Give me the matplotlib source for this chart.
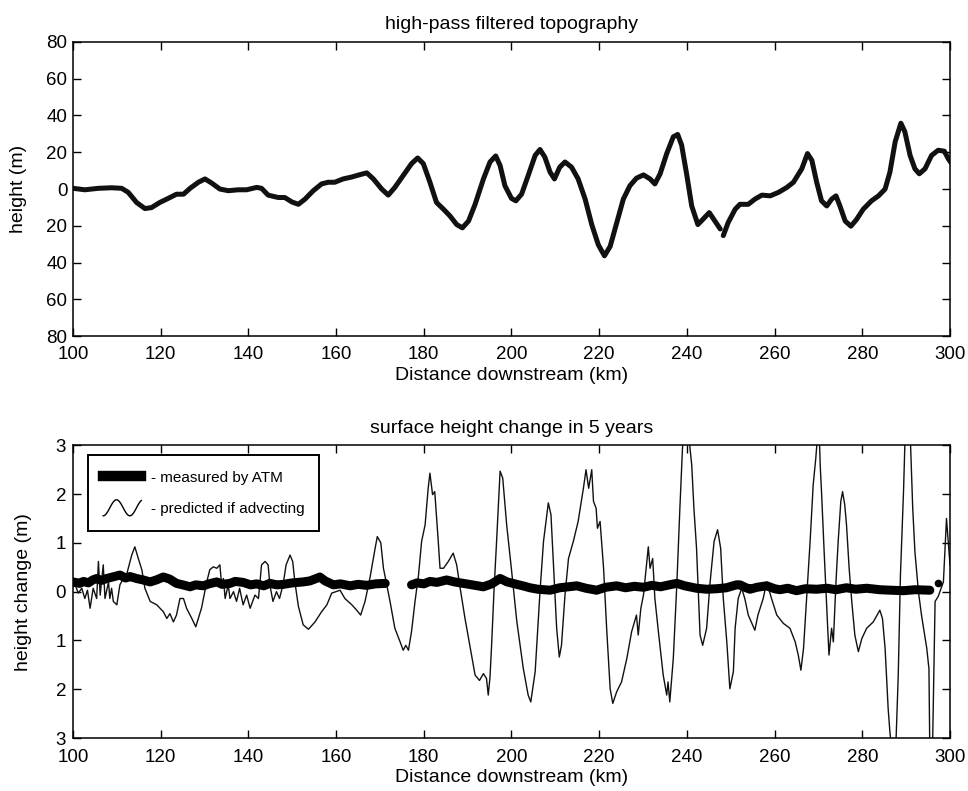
import numpy as np
import matplotlib
matplotlib.use("Agg")
import matplotlib.pyplot as plt
from matplotlib.legend_handler import HandlerBase
from matplotlib.lines import Line2D

plt.rcParams["font.family"] = ["Liberation Sans", "DejaVu Sans"]

nan = np.nan

# high-pass filtered topography (km, m); NaN marks the break near 248 km
topo_km = [
    100, 102.7, 105.8, 108.8, 111.1, 112.6, 114.5, 116.4, 117.9, 119.8,
    121.7, 123.6, 125.2, 126.7, 128.6, 130.1, 131.6, 133.5, 135.4, 137.7,
    139.6, 141.9, 143, 144.5, 146.8, 148.3, 149.9, 151.4, 152.9, 154.8,
    156.7, 158.2, 159.7, 161.6, 163.5, 165.4, 167, 168.5, 170.4, 171.9,
    173.4, 175.3, 177.2, 178.6, 179.9, 181.4, 182.9, 184.5, 186, 187.5,
    188.8, 190.2, 191.7, 193.6, 195.1, 196.4, 197.4, 198.5, 200, 201,
    202.3, 203.8, 205.4, 206.5, 207.6, 208.8, 209.8, 211, 212.2, 213.7,
    215.2, 216.8, 218.3, 219.8, 221.2, 222.5, 224, 225.5, 227, 228.5,
    230.1, 231.6, 232.7, 233.9, 235.4, 236.9, 237.9, 238.8, 240, 241.1,
    242.5, 243.8, 245.1, 246.4, 247.6, 247.9, 248.3, 249.4, 251, 252.1,
    254, 255.5, 257.1, 259, 260.9, 262.8, 264.3, 266.2, 267.5, 268.5,
    269.6, 270.7, 271.9, 273, 274, 274.9, 276.1, 277.4, 278.7, 280.2,
    282.1, 283.7, 285.2, 286.3, 287.5, 288.8, 289.7, 290.9, 292, 293,
    294.3, 295.8, 297.3, 298.7, 299.6, 300.4,
]
topo_m = [
    0.4, -0.4, 0.4, 0.7, 0.4, -1.8, -7.3, -10.6, -10.1, -7.3,
    -5.1, -2.8, -2.8, 0.4, 3.7, 5.5, 3.3, 0.0, -0.9, -0.4,
    -0.4, 0.9, 0.4, -3.3, -4.6, -4.6, -7.0, -8.3, -5.5, -0.9,
    2.8, 3.7, 3.7, 5.5, 6.5, 7.8, 8.8, 5.5, 0.0, -3.3,
    0.9, 7.3, 13.8, 16.9, 13.8, 3.7, -7.3, -11.0, -14.7, -19.3,
    -21.1, -17.4, -8.3, 5.5, 14.7, 18.0, 12.8, 1.8, -5.1, -6.4,
    -2.8, 7.3, 18.3, 21.5, 17.4, 9.2, 5.5, 11.9, 14.7, 11.9,
    5.5, -5.5, -19.3, -30.3, -36.3, -31.2, -18.3, -5.5, 1.8, 5.9,
    7.7, 5.5, 2.8, 8.3, 19.3, 28.4, 29.7, 23.9, 7.3, -9.2,
    -19.3, -16.1, -12.8, -17.4, -21.7, nan, -25.3, -18.3, -11.0, -8.3,
    -8.3, -5.5, -3.3, -3.7, -1.8, 0.9, 3.7, 11.0, 19.3, 15.6,
    3.7, -6.4, -9.2, -5.5, -3.7, -9.2, -17.4, -20.2, -16.5, -11.0,
    -6.4, -3.7, 0.0, 9.2, 25.7, 35.8, 31.2, 18.3, 11.0, 8.3,
    11.0, 18.3, 21.1, 20.6, 16.5, 13.8,
]

# surface height change measured by ATM (km, m); NaN marks the data gap
atm_km = [
    100, 101.5, 102.4, 103.5, 104.5, 105.4, 106.5, 107.7, 109, 110.7,
    112, 113, 114.5, 116, 117.6, 119, 120.6, 122, 123.6, 125,
    126.7, 128, 129.7, 131, 132.8, 134, 135.8, 137, 138.8, 140.5,
    141.9, 143.5, 144.9, 146.5, 148, 150, 152.5, 154, 155.2, 156.3,
    157.5, 159.4, 161, 163.2, 165, 167, 169, 171.2, 174, 177.2,
    178.5, 180, 181.4, 183, 185.2, 187, 189, 191, 193.6, 195.5,
    197.4, 199, 201.2, 203, 204.2, 206, 208.8, 211, 213, 214.9,
    217, 219.4, 221.5, 224, 226, 228, 230.1, 232, 234, 236,
    237.7, 239.5, 242.2, 244.5, 246.8, 249, 251.3, 252.1, 253.5, 254.4,
    256, 258.2, 260, 261.2, 263, 265, 267, 269.6, 272, 274,
    276.4, 278.5, 281, 284, 286.5, 289.4, 292, 295.4,
]
atm_m = [
    0.20, 0.17, 0.21, 0.18, 0.24, 0.27, 0.23, 0.27, 0.30, 0.34,
    0.28, 0.31, 0.27, 0.24, 0.20, 0.24, 0.30, 0.26, 0.17, 0.14,
    0.10, 0.14, 0.12, 0.16, 0.20, 0.15, 0.17, 0.21, 0.19, 0.14,
    0.16, 0.12, 0.17, 0.14, 0.15, 0.18, 0.20, 0.22, 0.26, 0.30,
    0.22, 0.14, 0.16, 0.12, 0.15, 0.13, 0.16, 0.17, nan, 0.14,
    0.18, 0.16, 0.21, 0.19, 0.24, 0.20, 0.17, 0.14, 0.10, 0.16,
    0.27, 0.20, 0.15, 0.11, 0.08, 0.05, 0.03, 0.08, 0.10, 0.12,
    0.07, 0.03, 0.09, 0.12, 0.08, 0.11, 0.09, 0.13, 0.10, 0.14,
    0.17, 0.12, 0.07, 0.05, 0.06, 0.08, 0.14, 0.14, 0.08, 0.05,
    0.09, 0.12, 0.06, 0.04, 0.07, 0.02, 0.06, 0.05, 0.07, 0.04,
    0.08, 0.05, 0.07, 0.04, 0.03, 0.02, 0.04, 0.03,
]
atm_dot_km = [297.2]
atm_dot_m = [0.17]

# predicted height change if topography were advecting (km, m)
pred_km = [
    100.0, 100.5, 101.2, 102.0, 102.7, 103.3, 103.9, 104.6, 105.4, 105.8,
    106.2, 106.9, 107.3, 108.1, 108.4, 108.8, 109.2, 110.0, 110.7, 111.5,
    112.2, 113.4, 114.1, 114.9, 115.7, 116.4, 117.6, 119.1, 120.6, 121.4,
    122.1, 122.9, 123.6, 124.4, 125.2, 125.9, 127.1, 128.0, 129.3, 130.5,
    131.2, 132.0, 132.8, 133.5, 133.9, 134.3, 134.7, 135.4, 135.8, 136.6,
    137.3, 138.0, 138.8, 139.6, 140.4, 141.5, 142.3, 143.0, 143.8, 144.5,
    144.9, 145.6, 146.4, 147.1, 147.9, 148.6, 149.5, 150.1, 150.6, 151.4,
    152.5, 153.7, 155.2, 156.7, 157.9, 159.0, 160.9, 162.0, 163.6, 164.7,
    165.6, 166.6, 167.7, 168.9, 169.4, 170.2, 170.8, 171.7, 172.3, 173.4,
    174.6, 175.3, 175.9, 176.5, 177.2, 178.0, 178.8, 179.5, 180.3, 181.0,
    181.4, 182.0, 182.5, 183.3, 183.7, 184.5, 185.6, 186.7, 187.5, 188.3,
    189.4, 190.5, 191.7, 192.7, 193.6, 194.3, 194.7, 195.1, 195.5, 196.0,
    196.6, 197.4, 198.0, 198.9, 200.0, 201.2, 202.7, 203.8, 204.4, 205.4,
    206.5, 207.3, 208.4, 209.0, 209.5, 210.3, 210.9, 211.4, 212.2, 213.0,
    214.1, 215.2, 216.4, 217.0, 217.6, 218.3, 218.7, 219.3, 219.6, 220.2,
    221.0, 221.7, 222.5, 223.1, 224.0, 225.1, 226.3, 227.4, 228.5, 228.9,
    229.5, 230.1, 230.7, 231.2, 231.6, 232.2, 232.7, 233.5, 234.6, 235.4,
    235.7, 236.1, 236.9, 237.7, 238.4, 239.0, 239.3, 240.4, 240.7, 241.1,
    241.6, 242.2, 243.0, 243.6, 244.5, 245.3, 246.2, 247.0, 247.7, 248.3,
    249.1, 249.8, 250.6, 251.0, 251.7, 252.5, 253.2, 254.0, 255.5, 256.2,
    257.4, 258.2, 259.3, 260.5, 262.0, 263.5, 264.7, 265.4, 266.0, 266.6,
    267.3, 268.1, 268.8, 269.4, 269.8, 270.2, 270.4, 270.7, 271.3, 271.9,
    272.4, 273.0, 273.4, 274.0, 274.5, 275.1, 275.5, 276.0, 276.4, 277.0,
    277.6, 278.3, 279.1, 279.9, 281.0, 282.5, 284.0, 284.6, 285.2, 285.9,
    286.3, 286.8, 287.6, 288.2, 288.7, 289.4, 289.8, 290.9, 291.5, 292.0,
    292.8, 293.5, 294.7, 295.2, 295.4, 296.0, 296.6, 297.3, 298.5, 299.2,
    300.0,
]
pred_m = [
    0.10, 0.14, -0.03, 0.07, -0.14, 0.03, -0.34, 0.07, -0.14, 0.62,
    -0.07, 0.55, -0.14, 0.20, -0.14, 0.07, -0.20, -0.27, 0.14, 0.27,
    0.34, 0.75, 0.92, 0.68, 0.45, 0.07, -0.20, -0.27, -0.41, -0.55,
    -0.45, -0.62, -0.48, -0.14, -0.14, -0.34, -0.55, -0.72, -0.34, 0.20,
    0.45, 0.51, 0.48, 0.55, 0.14, 0.27, -0.14, 0.14, -0.14, 0.00,
    -0.20, 0.07, -0.27, -0.07, -0.34, -0.07, -0.14, 0.55, 0.62, 0.55,
    0.14, -0.20, 0.00, -0.14, 0.14, 0.55, 0.75, 0.62, 0.20, -0.30,
    -0.68, -0.77, -0.62, -0.41, -0.27, -0.03, 0.03, -0.14, -0.27, -0.38,
    -0.48, -0.20, 0.27, 0.89, 1.13, 1.00, 0.48, 0.07, -0.20, -0.75,
    -1.03, -1.20, -1.10, -1.20, -0.82, -0.20, 0.34, 1.03, 1.37, 2.12,
    2.43, 1.99, 2.05, 1.03, 0.48, 0.48, 0.62, 0.79, 0.55, 0.07,
    -0.55, -1.10, -1.71, -1.82, -1.68, -1.78, -2.12, -1.75, -1.03, 0.00,
    1.03, 2.47, 2.33, 1.37, 0.45, -0.60, -1.58, -2.12, -2.26, -1.64,
    0.00, 1.03, 1.82, 1.58, 0.68, -0.75, -1.34, -1.10, -0.07, 0.68,
    1.03, 1.44, 2.12, 2.50, 2.12, 2.50, 1.85, 1.71, 1.30, 1.44,
    0.48, -0.75, -1.99, -2.29, -2.05, -1.85, -1.37, -0.82, -0.48, -0.89,
    -0.34, -0.07, 0.48, 0.92, 0.48, 0.68, -0.14, -0.82, -1.71, -2.12,
    -1.85, -2.26, -1.37, 0.14, 1.71, 2.95, 3.40, 3.40, 2.95, 2.60,
    1.71, 0.89, -0.89, -1.10, -0.75, 0.20, 1.03, 1.27, 0.89, -0.14,
    -1.03, -1.99, -1.64, -0.75, -0.14, 0.07, -0.14, -0.48, -0.79, -0.48,
    -0.14, 0.20, -0.14, -0.48, -0.65, -0.75, -1.03, -1.30, -1.61, -1.16,
    -0.14, 1.03, 2.19, 2.74, 3.20, 3.20, 2.60, 2.05, 0.82, -0.34,
    -1.30, -0.75, -1.03, 0.20, 1.03, 1.85, 2.05, 1.78, 1.37, 0.48,
    -0.20, -0.89, -1.23, -0.96, -0.75, -0.62, -0.38, -0.55, -1.16, -2.40,
    -2.88, -3.30, -3.30, -1.71, 0.34, 2.05, 3.30, 3.30, 1.71, 0.82,
    0.00, -0.48, -1.16, -1.58, -3.30, -3.30, -0.20, -0.10, 0.20, 1.50,
    0.55,
]

km_ticks = list(range(100, 301, 20))
topo_ticks = list(range(-80, 81, 20))
dh_ticks = [-3, -2, -1, 0, 1, 2, 3]


class SineHandler(HandlerBase):
    # little wave drawn as the legend key for the predicted curve
    def create_artists(self, legend, orig_handle, xdescent, ydescent,
                       width, height, fontsize, trans):
        t = np.linspace(0, 1, 60)
        x = -xdescent + width * t
        y = -ydescent + height / 2 + 0.75 * height * np.sin(9 * t - np.pi / 2)
        line = Line2D(x, y, color="black", lw=1.0)
        line.set_transform(trans)
        return [line]


def style_axes(ax, yticks, xpad, ypad):
    ax.set_xlim(100, 300)
    ax.set_xticks(km_ticks)
    ax.set_yticks(yticks)
    ax.set_yticklabels([str(abs(v)) for v in yticks])
    ax.tick_params(direction="in", top=True, right=True, length=6,
                   width=1, labelsize=13.5)
    ax.tick_params(axis="x", pad=xpad)
    ax.tick_params(axis="y", pad=ypad)
    for spine in ax.spines.values():
        spine.set_linewidth(1.1)


fig = plt.figure(figsize=(9.68, 7.91), dpi=100)

ax1 = fig.add_axes([0.0754, 0.575, 0.906, 0.372])
ax1.plot(topo_km, topo_m, color="#111111", lw=3.6, solid_capstyle="round",
         solid_joinstyle="round")
ax1.set_ylim(-80, 80)
style_axes(ax1, topo_ticks, 7, 4)
ax1.set_title("high-pass filtered topography", fontsize=14, pad=9)
ax1.set_xlabel("Distance downstream (km)", fontsize=14, labelpad=3)
ax1.set_ylabel("height (m)", fontsize=14)
ax1.yaxis.set_label_coords(-0.052, 0.5)

ax2 = fig.add_axes([0.0754, 0.067, 0.906, 0.370])
ax2.plot(pred_km, pred_m, color="#111111", lw=1.0)
ax2.plot(atm_km, atm_m, color="black", lw=6.5, solid_capstyle="round")
ax2.plot(atm_dot_km, atm_dot_m, "o", color="black", ms=4.5)
ax2.set_ylim(-3, 3)
style_axes(ax2, dh_ticks, 8, 5)
ax2.set_title("surface height change in 5 years", fontsize=14, pad=9)
ax2.set_xlabel("Distance downstream (km)", fontsize=14, labelpad=2)
ax2.set_ylabel("height change (m)", fontsize=14)
ax2.yaxis.set_label_coords(-0.047, 0.5)

atm_handle = Line2D([], [], color="black", lw=7.5)
pred_handle = Line2D([], [], color="black", lw=1.0)
leg = ax2.legend(
    [atm_handle, pred_handle],
    ["- measured by ATM", "- predicted if advecting"],
    handler_map={pred_handle: SineHandler()},
    loc="upper left",
    bbox_to_anchor=(0.017, 0.686, 0.263, 0.28),
    mode="expand",
    borderaxespad=0,
    fontsize=11,
    handlelength=2.5,
    handletextpad=0.6,
    labelspacing=1.15,
    borderpad=1.0,
    fancybox=False,
    framealpha=1,
    edgecolor="black",
)
leg.get_frame().set_linewidth(1.4)

fig.savefig("out.png", dpi=100)
